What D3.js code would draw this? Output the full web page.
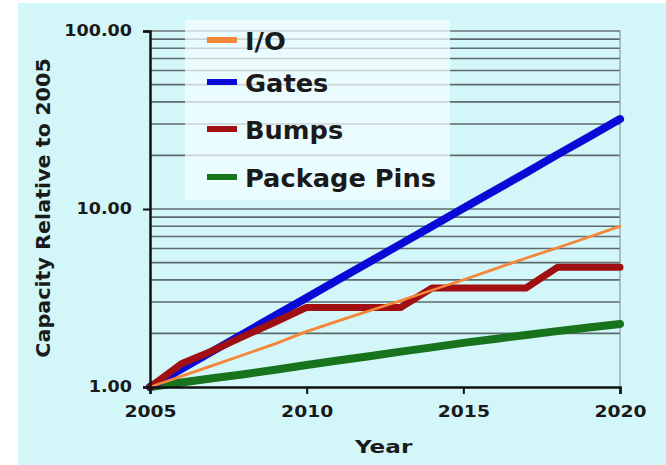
<!DOCTYPE html>
<html><head><meta charset="utf-8">
<script src="https://cdn.jsdelivr.net/npm/d3@7"></script>
<style>
html,body{margin:0;padding:0;background:#fff;}
svg{display:block;}
text{font-family:"DejaVu Sans",Verdana,sans-serif;font-weight:bold;fill:#1a1a1a;}
</style></head>
<body>
<script>
const years = [2005,2006,2007,2008,2009,2010,2011,2012,2013,2014,2015,2016,2017,2018,2019,2020];
const ioValues = [1,1.15,1.32,1.52,1.75,2.05,2.35,2.68,3.05,3.5,4.0,4.6,5.3,6.05,6.95,8.0];
const gatesValues = [1,1.26,1.59,2.0,2.52,3.17,4.0,5.04,6.35,8.0,10.1,12.7,16.0,20.2,25.4,32.0];
const bumpsValues = [1,1.35,1.6,1.93,2.32,2.8,2.8,2.8,2.8,3.6,3.6,3.6,3.6,4.7,4.7,4.7];
const pinsValues = [1,1.06,1.12,1.18,1.25,1.33,1.41,1.49,1.58,1.67,1.77,1.86,1.96,2.06,2.16,2.26];
const seriesNames = ["I/O","Gates","Bumps","Package Pins"];
const seriesColors = ["#f4883a","#0a0ad6","#a00f12","#17731c"];
const xTicks = [2005,2010,2015,2020];
const yTicks = [1,10,100];
const yTickLabels = ["1.00","10.00","100.00"];
const xTitle = "Year";
const yTitle = "Capacity Relative to 2005";

const W = 666, H = 465;
const svg = d3.select("body").append("svg").attr("width",W).attr("height",H);
svg.append("rect").attr("x",18).attr("y",3).attr("width",W-18).attr("height",H-3).attr("fill","#d3f6f9");

const L = 150, R = 620, T = 31, B = 387;
const x = d3.scaleLinear().domain([2005,2020]).range([L,R]);
const y = d3.scaleLog().domain([1,100]).range([B,T]);

// gridlines
const grid = [];
for (let d = 1; d < 100; d *= 10) for (let k = 2; k <= 10; k++) grid.push(k*d);
svg.append("g").selectAll("line").data(grid).join("line")
  .attr("x1",L).attr("x2",R).attr("y1",d=>y(d)).attr("y2",d=>y(d))
  .attr("stroke","#5d6b6e").attr("stroke-width",1.6);

// right/top border
svg.append("line").attr("x1",R).attr("x2",R).attr("y1",T).attr("y2",B).attr("stroke","#8a9a9c").attr("stroke-width",1.2);
svg.append("line").attr("x1",L).attr("x2",R).attr("y1",T).attr("y2",T).attr("stroke","#8a9a9c").attr("stroke-width",1.2);

// legend box
svg.append("rect").attr("x",185).attr("y",20).attr("width",265).attr("height",180)
  .attr("fill","#f2feff").attr("fill-opacity",0.72);

// lines
const allValues = [ioValues,gatesValues,bumpsValues,pinsValues];
const widths = [2.5,8,7,8];
const line = d3.line().x((d,i)=>x(years[i])).y(d=>y(d));
[3,0,1,2].forEach(s=>{
  svg.append("path").datum(allValues[s]).attr("d",line)
    .attr("fill","none").attr("stroke",seriesColors[s]).attr("stroke-width",widths[s])
    .attr("stroke-linejoin","round").attr("stroke-linecap","round");
});
svg.append("path").datum(ioValues).attr("d",line).attr("fill","none")
  .attr("stroke",seriesColors[0]).attr("stroke-width",2.5);

// axes
const yAxis = d3.axisLeft(y).tickValues(yTicks).tickFormat((d,i)=>yTickLabels[i]).tickSize(7).tickPadding(10);
const gy = svg.append("g").attr("transform",`translate(${L},0)`).call(yAxis);
gy.select(".domain").attr("stroke","#111").attr("stroke-width",2.5);
gy.selectAll(".tick line").attr("stroke","#111").attr("stroke-width",2);
gy.selectAll(".tick text").style("font-size","15px").attr("fill","#222")
  .attr("x",0).attr("transform","translate(-18,0) scale(1.17,1)");

const xAxis = d3.axisBottom(x).tickValues(xTicks).tickFormat(d3.format("d")).tickSize(7).tickPadding(12);
const gx = svg.append("g").attr("transform",`translate(0,${B})`).call(xAxis);
gx.select(".domain").attr("stroke","#111").attr("stroke-width",2.5);
gx.selectAll(".tick line").attr("stroke","#111").attr("stroke-width",2);
gx.selectAll(".tick text").style("font-size","15px").attr("fill","#222")
  .attr("transform","scale(1.25,1)");

// titles
svg.append("text").attr("transform","translate(355,453) scale(1.25,1)").style("font-size","18.5px").text(xTitle);
svg.append("text").attr("transform","translate(50,208) rotate(-90) scale(1.09,1)").attr("text-anchor","middle")
  .style("font-size","19px").text(yTitle);

// legend entries
const legY = [40,82,129,177];
seriesNames.forEach((n,i)=>{
  svg.append("line").attr("x1",207).attr("x2",237).attr("y1",legY[i]).attr("y2",legY[i])
    .attr("stroke",seriesColors[i]).attr("stroke-width",6);
  svg.append("text").attr("transform",`translate(245,${legY[i]+10}) scale(1.07,1)`)
    .style("font-size","24px").attr("fill","#111").text(n);
});
</script>
</body></html>
